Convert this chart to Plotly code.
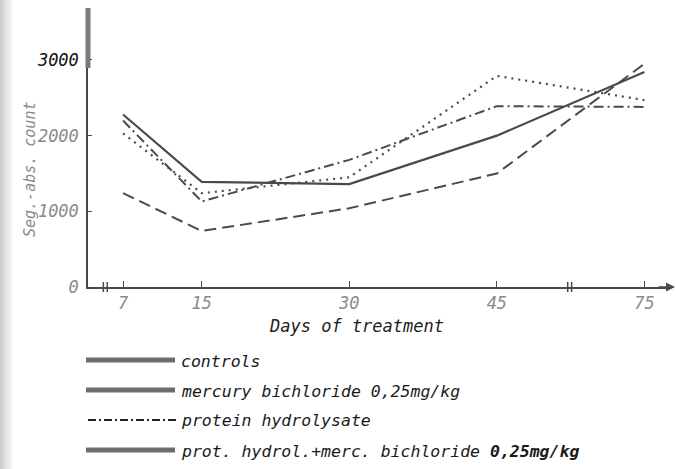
import plotly.graph_objects as go

# ---- data ----
days = [7, 15, 30, 45, 75]
# plotting positions on the (broken) day axis: 45 -> 75 is compressed
day_pos = [7, 15, 30, 45, 60]
tick_labels = ["7", "15", "30", "45", "75"]

series_names = [
    "controls",
    "mercury bichloride 0,25mg/kg",
    "protein hydrolysate",
    "prot. hydrol.+merc. bichloride <b>0,25mg/kg</b>",
]
controls = [2280, 1390, 1360, 2000, 2840]
mercury = [1240, 740, 1040, 1500, 2950]
protein = [2200, 1130, 1680, 2390, 2380]
combo = [2030, 1240, 1450, 2790, 2470]

y_ticks = [0, 1000, 2000, 3000]
y_tick_labels = ["0", "1000", "2000", "3000"]

# ---- styling ----
W, H = 676, 469
L, R, T, B = 88, 6, 8, 182
PW, PH = W - L - R, H - T - B
MONO = "DejaVu Sans Mono, Liberation Mono, monospace"
LINE_COL = "#4a4a4a"
GRAY_TXT = "#8a8a8a"

def px_x(p):
    return (p - L) / PW

def px_y(p):
    return (H - B - p) / PH

fig = go.Figure()
styles = [
    dict(dash="solid", width=2.2),
    dict(dash="12px,6px", width=2),
    dict(dash="10px,4px,2px,4px", width=2),
    dict(dash="2px,5px", width=2.2),
]
for name, vals, st in zip(series_names, [controls, mercury, protein, combo], styles):
    fig.add_trace(go.Scatter(
        x=day_pos, y=vals, mode="lines", name=name, showlegend=False,
        line=dict(color=LINE_COL, width=st["width"], dash=st["dash"]),
        customdata=days, hovertemplate="day %{customdata}: %{y}<extra></extra>",
    ))

shapes = []
annotations = []

# axis breaks on x axis
for xb in (5.0, 5.4, 52.2, 52.6):
    shapes.append(dict(type="line", xref="x", yref="paper", x0=xb, x1=xb,
                       y0=-5 / PH, y1=5 / PH, line=dict(color=LINE_COL, width=1.5)))
# thick gray retouch bar on top of y axis
shapes.append(dict(type="line", xref="paper", yref="paper", x0=0, x1=0,
                   y0=px_y(68), y1=px_y(8), line=dict(color="#7a7a7a", width=5)))
# scan shadow at the left edge
for i, c in enumerate(["#cfcfcf", "#dcdcdc", "#e8e8e8", "#f3f3f3"]):
    shapes.append(dict(type="rect", xref="paper", yref="paper",
                       x0=px_x(i * 3), x1=px_x(i * 3 + 3), y0=px_y(H), y1=px_y(0),
                       line=dict(width=0), fillcolor=c, layer="above"))

# arrow at the end of the x axis
annotations.append(dict(xref="paper", yref="paper", x=px_x(675), y=0, ax=-18, ay=0,
                        showarrow=True, arrowhead=2, arrowsize=1.2, arrowwidth=1.5,
                        arrowcolor=LINE_COL, text=""))

# axis titles
annotations.append(dict(xref="paper", yref="paper", x=px_x(356), y=px_y(338),
                        text="Days of treatment", showarrow=False,
                        font=dict(family=MONO, size=17, color="#222", style="italic")))
annotations.append(dict(xref="paper", yref="paper", x=px_x(19), y=px_y(170),
                        text="Seg.-abs. count", showarrow=False, textangle=-90,
                        font=dict(family=MONO, size=15, color=GRAY_TXT, style="italic")))

# legend drawn as line samples + labels
leg_y = [360, 390, 420, 450]
for i, (name, yy) in enumerate(zip(series_names, leg_y)):
    if i == 2:
        shapes.append(dict(type="line", xref="paper", yref="paper", x0=px_x(88), x1=px_x(176),
                           y0=px_y(yy), y1=px_y(yy),
                           line=dict(color="#222", width=1.8, dash="8px,3px,2px,3px")))
    else:
        shapes.append(dict(type="line", xref="paper", yref="paper", x0=px_x(86), x1=px_x(175),
                           y0=px_y(yy), y1=px_y(yy), line=dict(color="#6e6e6e", width=5)))
    annotations.append(dict(xref="paper", yref="paper", x=px_x(179), y=px_y(yy + 1),
                            xanchor="left", yanchor="middle", text=name, showarrow=False,
                            font=dict(family=MONO, size=16.5, color="#1a1a1a", style="italic")))

y_text = []
for v, t in zip(y_ticks, y_tick_labels):
    if v == 3000:
        y_text.append('<span style="color:#111">' + t + "</span>")
    else:
        y_text.append(t)

fig.update_layout(
    width=W, height=H,
    margin=dict(l=L, r=R, t=T, b=B, pad=0, autoexpand=False),
    paper_bgcolor="white", plot_bgcolor="white",
    showlegend=False,
    xaxis=dict(range=[3.44, 62.6], tickmode="array", tickvals=day_pos, ticktext=tick_labels,
               automargin=False,
               showgrid=False, zeroline=False, showline=True, linecolor=LINE_COL, linewidth=1.5,
               ticks="inside", ticklen=6, tickcolor=LINE_COL, tickwidth=1.2,
               tickfont=dict(family=MONO, size=17, color=GRAY_TXT, style="italic")),
    yaxis=dict(range=[0, 3687], tickmode="array", tickvals=y_ticks, ticktext=y_text,
               automargin=False, ticklabelstandoff=4,
               showgrid=False, zeroline=False, showline=True, linecolor=LINE_COL, linewidth=1.5,
               ticks="inside", ticklen=4, tickcolor=LINE_COL,
               tickfont=dict(family=MONO, size=17, color=GRAY_TXT, style="italic")),
    shapes=shapes,
    annotations=annotations,
)

fig.write_html("out.html", config={"displayModeBar": False},
               post_script="document.body.style.margin='0';document.body.style.overflow='hidden';")
